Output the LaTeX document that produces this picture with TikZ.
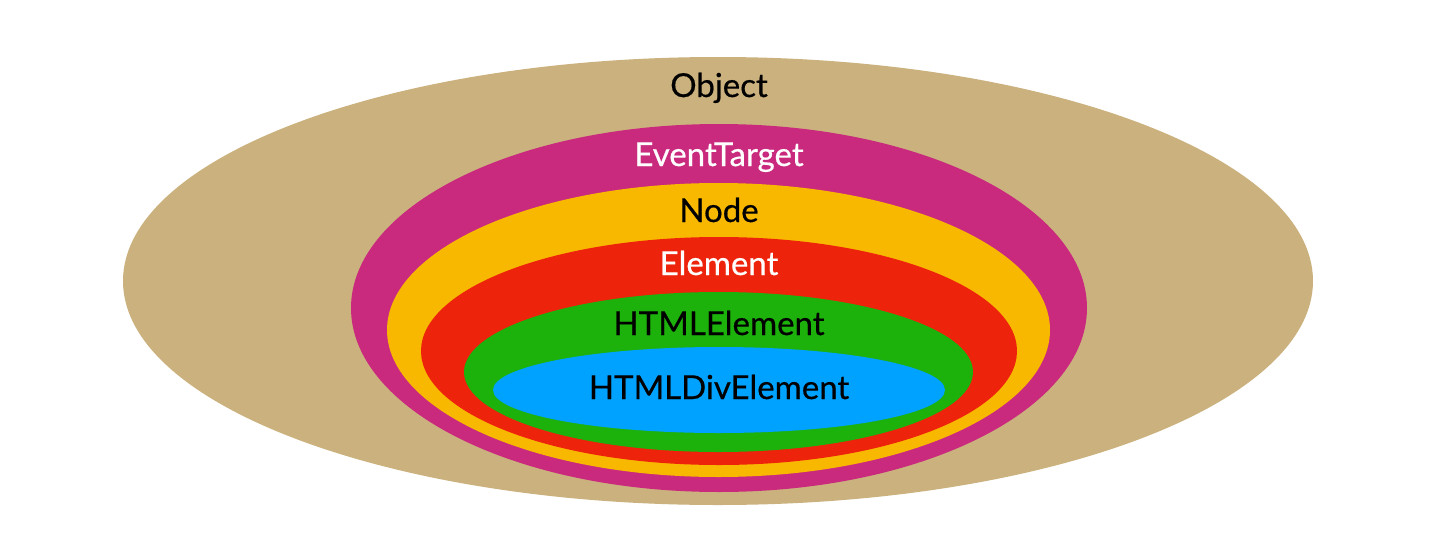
\documentclass[tikz,border=0pt]{standalone}
\usepackage{fontspec}
\setmainfont{Lato}
\newfontfamily\lblfont{Lato}[FakeBold=0.5]
\definecolor{cobj}{HTML}{CBB17D}
\definecolor{cevt}{HTML}{C92A7E}
\definecolor{cnode}{HTML}{F9B800}
\definecolor{celem}{HTML}{EE230C}
\definecolor{chtml}{HTML}{1DB10C}
\definecolor{cdiv}{HTML}{00A2FF}
\tikzset{
  lbl/.style={anchor=base, inner sep=0pt, font=\lblfont\fontsize{16.5}{19}\selectfont},
}
\begin{document}
\begin{tikzpicture}[x=0.5pt,y=-0.5pt]
\useasboundingbox (0,0) rectangle (1448,542);
\fill[cobj]  (718,281) ellipse [x radius=297.5pt, y radius=112pt];
\fill[cevt]  (719,308) ellipse [x radius=184pt, y radius=92pt];
\fill[cnode] (718.5,330) ellipse [x radius=165.75pt, y radius=73.5pt];
\fill[celem] (719,351) ellipse [x radius=149pt, y radius=57pt];
\fill[chtml] (718.5,372) ellipse [x radius=127.25pt, y radius=40pt];
\fill[cdiv]  (719,390) ellipse [x radius=113pt, y radius=21.5pt];
\node[lbl, text=black] (tobj)  at (719,97)  {Object};
\node[lbl, text=white] (tevt)  at (719,166) {EventTarget};
\node[lbl, text=black] (tnode) at (719,222) {Node};
\node[lbl, text=white] (telem) at (719,275) {Element};
\node[lbl, text=black] (thtml) at (719,335) {HTMLElement};
\node[lbl, text=black] (tdiv)  at (719,399) {HTMLDivElement};
\end{tikzpicture}
\end{document}
